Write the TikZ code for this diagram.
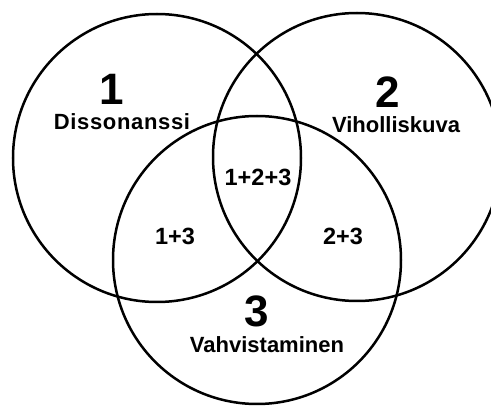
\documentclass[tikz,border=0pt]{standalone}
\usepackage{fontspec}
\setmainfont{Liberation Sans}
\usepackage{tikz}
\usetikzlibrary{positioning}
\newfontfamily\spacedfont[LetterSpace=3]{Liberation Sans}

\begin{document}
\begin{tikzpicture}[x=1pt,y=-1pt,
    setcircle/.style={draw,circle,line width=2.5pt,minimum size=288pt,inner sep=0pt},
    bignum/.style={font=\fontsize{44}{46}\selectfont\bfseries,inner sep=0pt},
    setname/.style={font=\fontsize{22}{25}\selectfont\bfseries,inner sep=0pt},
    overlap/.style={font=\fontsize{23.5}{26}\selectfont\bfseries,inner sep=0pt}]
  \useasboundingbox (0,0) rectangle (491,406);
  \clip (0,0) rectangle (491,406);
  \node[setcircle] (c1) at (157,158) {};
  \node[setcircle] (c2) at (357,157) {};
  \node[setcircle] (c3) at (257,260) {};
  \node[bignum] (n1) at (112,89) {1};
  \node[setname] (l1) at (122,122) {\spacedfont\bfseries Dissonanssi};
  \node[bignum] (n2) at (388,92) {2};
  \node[setname] (l2) at (396,125) {Viholliskuva};
  \node[bignum] (n3) at (257,311) {3};
  \node[setname] (l3) at (267,345) {Vahvistaminen};
  \node[overlap] (o123) at (258,177) {1+2+3};
  \node[overlap] (o13) at (175,236) {1+3};
  \node[overlap] (o23) at (343,236) {2+3};
\end{tikzpicture}
\end{document}
